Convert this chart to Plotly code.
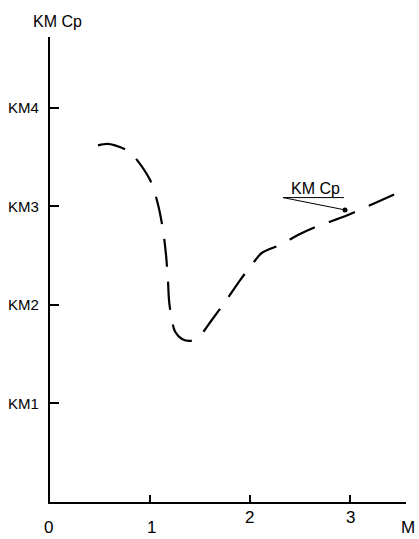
import plotly.graph_objects as go

# curve data
curve_x = [0.48, 0.57, 0.65, 0.80, 1.00, 1.08, 1.13, 1.16, 1.18, 1.19, 1.21, 1.25, 1.32, 1.40, 1.48,
           1.62, 1.75, 1.90, 2.02, 2.12, 2.30, 2.50, 2.70, 2.95, 3.24, 3.57]
curve_y = [3.62, 3.635, 3.62, 3.55, 3.27, 3.02, 2.76, 2.51, 2.24, 2.05, 1.90, 1.73, 1.655, 1.635, 1.665,
           1.85, 2.03, 2.25, 2.41, 2.53, 2.61, 2.72, 2.81, 2.90, 3.03, 3.18]

x_ticks = [1, 2, 3]
x_tick_labels = ["0", "1", "2", "3", "M"]
x_tick_label_pos = [-0.0056, 0.2865, 0.559, 0.843, 1.005]   # paper x
x_tick_label_y = [-0.0765, -0.0765, -0.056, -0.056, -0.0765]  # paper y (box bottom)
y_ticks = [1, 2, 3, 4]
y_tick_labels = ["KM1", "KM2", "KM3", "KM4"]
title_text = "KM Cp"
callout_text = "KM Cp"
callout_point = (2.95, 2.965)
callout_anchor = (2.33, 3.09)
callout_end = (2.94, 3.09)

font_reg = "Liberation Sans, Arial, sans-serif"

fig = go.Figure()
fig.add_trace(go.Scatter(
    x=curve_x, y=curve_y, mode="lines",
    line=dict(color="black", width=2.2, dash="28px,15px", shape="spline", smoothing=0.8),
    hoverinfo="skip", showlegend=False))

fig.add_trace(go.Scatter(
    x=[callout_anchor[0], callout_point[0]], y=[callout_anchor[1], callout_point[1]],
    mode="lines", line=dict(color="black", width=1), showlegend=False, hoverinfo="skip"))
fig.add_trace(go.Scatter(
    x=[callout_anchor[0], callout_end[0]], y=[callout_anchor[1], callout_end[1]],
    mode="lines", line=dict(color="black", width=1), showlegend=False, hoverinfo="skip"))
fig.add_trace(go.Scatter(
    x=[callout_point[0]], y=[callout_point[1]], mode="markers",
    marker=dict(color="black", size=5), showlegend=False, hoverinfo="skip"))

ann = []
for t, xp, yp in zip(x_tick_labels, x_tick_label_pos, x_tick_label_y):
    ann.append(dict(x=xp, y=yp, xref="paper", yref="paper", text=t, showarrow=False,
                    xanchor="center", yanchor="bottom", borderpad=0,
                    font=dict(size=17, color="black", family=font_reg)))
for t, yv in zip(y_tick_labels, y_ticks):
    ann.append(dict(x=-0.025, y=yv, xref="paper", yref="y", text=t, showarrow=False,
                    xanchor="right", yanchor="middle",
                    font=dict(size=15, color="black", family=font_reg)))
ann.append(dict(x=-0.053, y=1.033, xref="paper", yref="paper", text=title_text, showarrow=False,
                xanchor="left", yanchor="middle", font=dict(size=16, color="black", family=font_reg)))
ann.append(dict(x=2.65, y=3.18, xref="x", yref="y", text=callout_text, showarrow=False,
                xanchor="center", yanchor="middle",
                font=dict(size=16, color="black", family=font_reg)))

fig.update_layout(
    width=419, height=539,
    margin=dict(l=50, r=13, t=37, b=37),
    paper_bgcolor="white", plot_bgcolor="white",
    annotations=ann,
    xaxis=dict(range=[0, 3.56], showline=True, linecolor="black", linewidth=2,
               showgrid=False, zeroline=False, ticks="inside", ticklen=7, tickwidth=2,
               tickcolor="black", tickvals=x_ticks, showticklabels=False),
    yaxis=dict(range=[0, 4.72], showline=True, linecolor="black", linewidth=2,
               showgrid=False, zeroline=False, ticks="inside", ticklen=9, tickwidth=2,
               tickcolor="black", tickvals=y_ticks, showticklabels=False),
)
fig.write_html("out.html")
